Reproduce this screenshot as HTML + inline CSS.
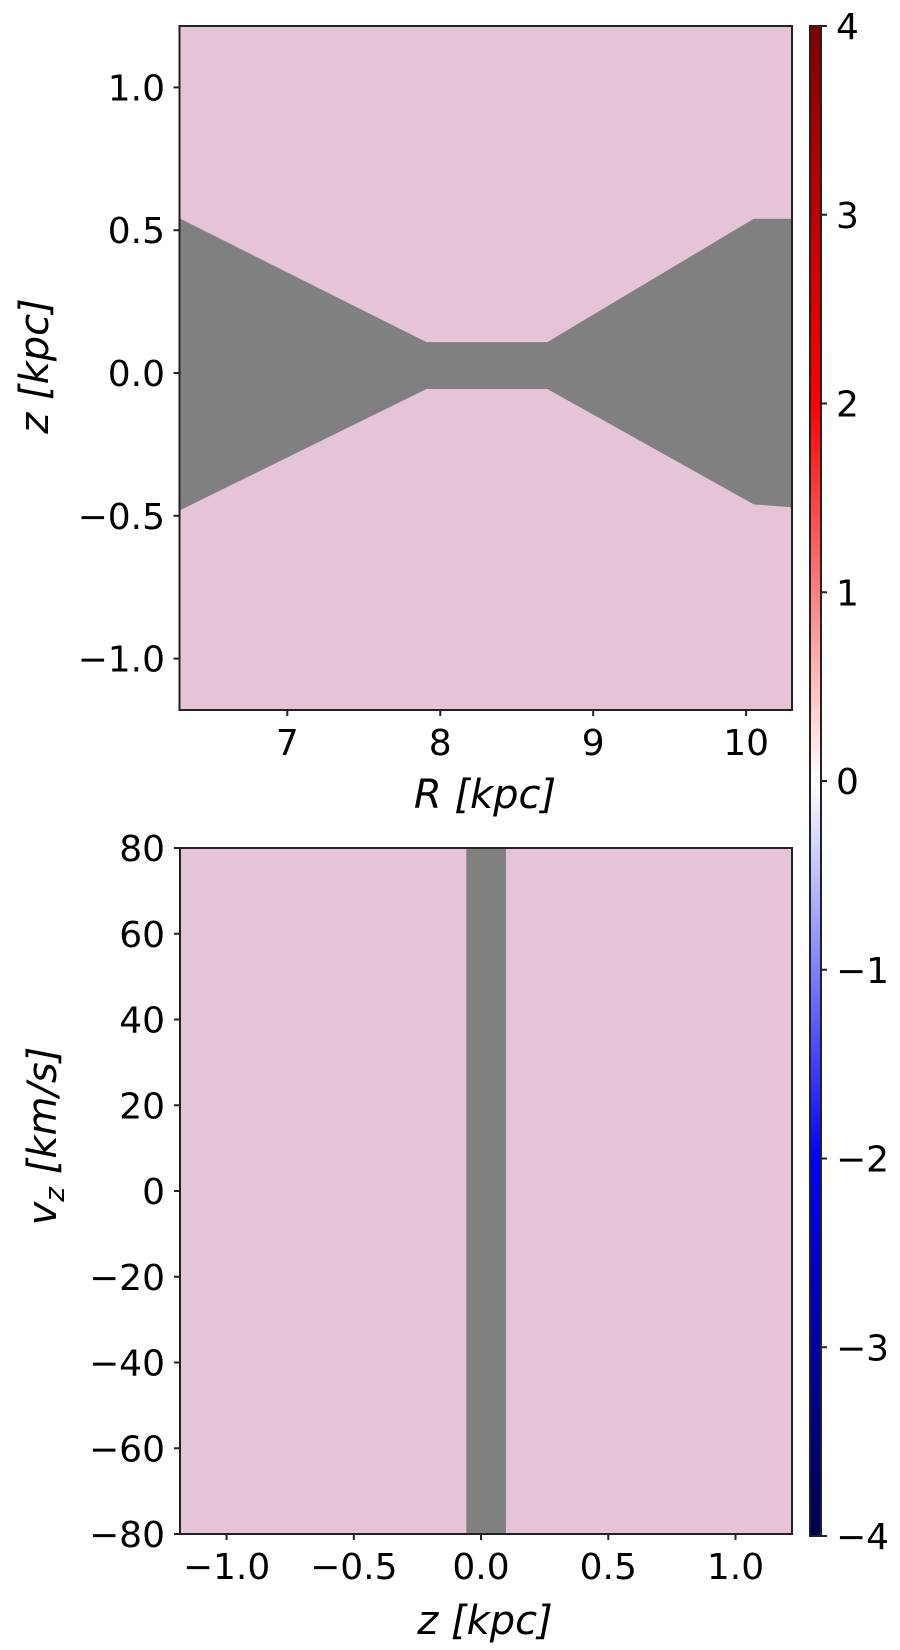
<!DOCTYPE html>
<html><head><meta charset="utf-8"><style>
html,body{margin:0;padding:0;background:#fff;width:900px;height:1650px;overflow:hidden}
svg text{font-family:"DejaVu Sans","Liberation Sans",sans-serif;fill:#000}
</style></head><body>
<svg id="fig" width="900" height="1650" viewBox="0 0 900 1650" xmlns="http://www.w3.org/2000/svg">
<defs>
<linearGradient id="cmap" x1="0" y1="1" x2="0" y2="0">
<stop offset="0" stop-color="rgb(0,0,77)"/><stop offset="0.25" stop-color="rgb(0,0,255)"/>
<stop offset="0.5" stop-color="#fff"/><stop offset="0.75" stop-color="rgb(255,0,0)"/>
<stop offset="1" stop-color="rgb(128,0,0)"/></linearGradient>
</defs>
</svg>
<script>
// ---- data ----
const topXTicks=[7,8,9,10];
const topYTicks=[1.0,0.5,0.0,-0.5,-1.0];
const topYTickLabels=["1.0","0.5","0.0","\u22120.5","\u22121.0"];
const maskUpperR=[6.3,7.91,8.70,10.05,10.3];
const maskUpperZ=[0.54,0.108,0.108,0.54,0.54];
const maskLowerR=[6.3,7.91,8.70,10.05,10.3];
const maskLowerZ=[-0.48,-0.056,-0.056,-0.46,-0.47];
const botXTicks=[-1.0,-0.5,0.0,0.5,1.0];
const botXTickLabels=["\u22121.0","\u22120.5","0.0","0.5","1.0"];
const botYTicks=[80,60,40,20,0,-20,-40,-60,-80];
const botYTickLabels=["80","60","40","20","0","\u221220","\u221240","\u221260","\u221280"];
const stripZ=[-0.058,0.098];
const cbTicks=[4,3,2,1,0,-1,-2,-3,-4];
const cbTickLabels=["4","3","2","1","0","\u22121","\u22122","\u22123","\u22124"];

const NS="http://www.w3.org/2000/svg";
const svg=document.getElementById('fig');
function mk(tag,attrs,parent){const e=document.createElementNS(NS,tag);for(const k in attrs)e.setAttribute(k,attrs[k]);(parent||svg).appendChild(e);return e;}
function lin(d0,d1,r0,r1){return v=>r0+(v-d0)*(r1-r0)/(d1-d0);}
const CELL="rgb(228,196,214)";

// ---- top panel ----
const TX=lin(6.295,10.30,179.5,792), TY=lin(1.215,-1.18,26,710);
let bg=mk('rect',{x:179.5,y:26,width:612.5,height:684,fill:CELL});


let pts=[];
maskUpperR.forEach((r,i)=>pts.push(TX(r)+','+TY(maskUpperZ[i])));
for(let i=maskLowerR.length-1;i>=0;i--)pts.push(TX(maskLowerR[i])+','+TY(maskLowerZ[i]));
let mask=mk('polygon',{points:pts.join(' '),fill:'#808080'});


let fr=mk('rect',{x:179.5,y:26,width:612.5,height:684,fill:'none',stroke:'#222','stroke-width':2});


topXTicks.forEach(v=>{
  mk('line',{x1:TX(v),x2:TX(v),y1:710,y2:716,stroke:'#222','stroke-width':2});
  const t=mk('text',{x:TX(v),y:755,'font-size':36,'text-anchor':'middle'});t.textContent=String(v);
  
  
});
topYTicks.forEach((v,i)=>{
  mk('line',{x1:173.5,x2:179.5,y1:TY(v),y2:TY(v),stroke:'#222','stroke-width':2});
  const t=mk('text',{x:165,y:TY(v)+13,'font-size':36,'text-anchor':'end'});t.textContent=topYTickLabels[i];
  
  
});
let xl=mk('text',{x:485,y:808,'font-size':40,'text-anchor':'middle','font-style':'italic'});
xl.textContent='R [kpc]';


let yl=mk('text',{x:0,y:0,'font-size':40,'text-anchor':'middle','font-style':'italic',transform:'translate(48,366) rotate(-90)'});
yl.textContent='z [kpc]';



// ---- bottom panel ----
const BX=lin(-1.183,1.222,180,792), BY=lin(80,-80,848,1534);
let bg2=mk('rect',{x:180,y:848,width:612,height:686,fill:CELL});


let strip=mk('rect',{x:BX(stripZ[0]),y:848,width:BX(stripZ[1])-BX(stripZ[0]),height:686,fill:'#808080'});


let fr2=mk('rect',{x:180,y:848,width:612,height:686,fill:'none',stroke:'#222','stroke-width':2});


botXTicks.forEach((v,i)=>{
  mk('line',{x1:BX(v),x2:BX(v),y1:1534,y2:1540,stroke:'#222','stroke-width':2});
  const t=mk('text',{x:BX(v),y:1579,'font-size':36,'text-anchor':'middle'});t.textContent=botXTickLabels[i];
  
  
});
botYTicks.forEach((v,i)=>{
  mk('line',{x1:174,x2:180,y1:BY(v),y2:BY(v),stroke:'#222','stroke-width':2});
  const t=mk('text',{x:165,y:BY(v)+13,'font-size':36,'text-anchor':'end'});t.textContent=botYTickLabels[i];
  
  
});
let xl2=mk('text',{x:485,y:1634,'font-size':40,'text-anchor':'middle','font-style':'italic'});
xl2.textContent='z [kpc]';


let yl2=mk('text',{x:0,y:0,'font-size':40,'text-anchor':'middle','font-style':'italic',transform:'translate(56,1136) rotate(-90)'});
yl2.innerHTML='v<tspan font-size="28" dy="8">z</tspan><tspan dy="-8"> [km/s]</tspan>';



// ---- colorbar ----
const CY=lin(4,-4,26,1536);
let cb=mk('rect',{x:810,y:26,width:11,height:1510,fill:'url(#cmap)',stroke:'#222','stroke-width':2});


cbTicks.forEach((v,i)=>{
  mk('line',{x1:821,x2:827,y1:CY(v),y2:CY(v),stroke:'#222','stroke-width':2});
  const t=mk('text',{x:836,y:CY(v)+13,'font-size':36,'text-anchor':'start'});t.textContent=cbTickLabels[i];
  
  
});
</script>
</body></html>
